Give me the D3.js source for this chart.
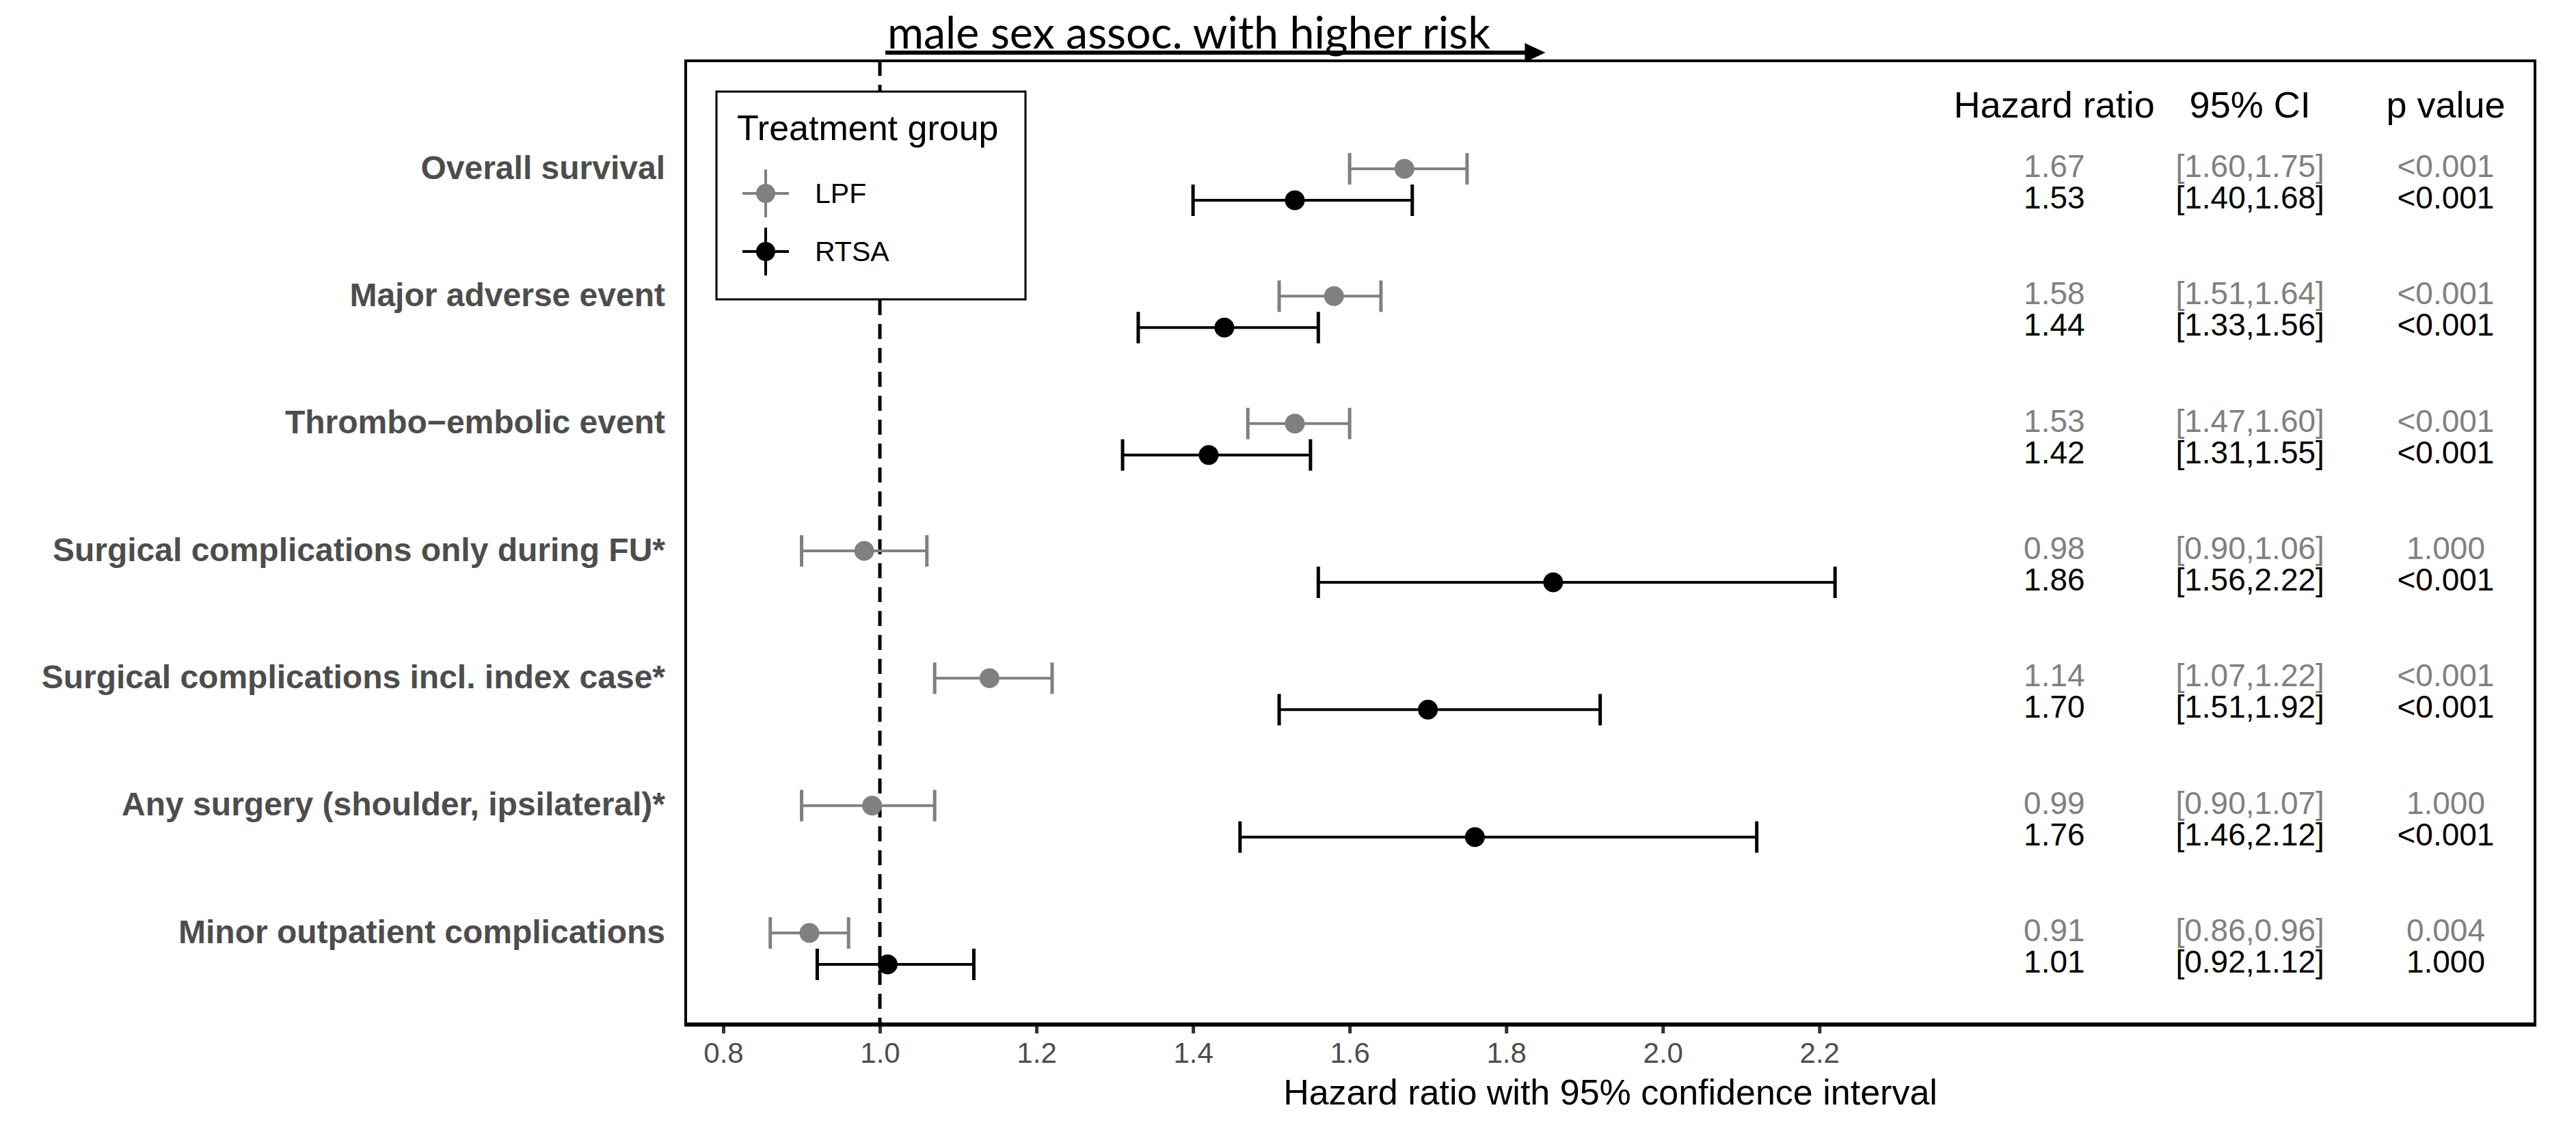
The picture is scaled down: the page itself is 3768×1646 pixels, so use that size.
<!DOCTYPE html>
<html>
<head>
<meta charset="utf-8">
<script src="https://cdn.jsdelivr.net/npm/d3@7"></script>
<style>
  body { margin: 0; background: #fff; }
  svg { display: block; }
</style>
</head>
<body>
<div class="chart"></div>
<script>
// outcomes, top to bottom
const categories = [
    "Overall survival",
    "Major adverse event",
    "Thrombo\u2212embolic event",
    "Surgical complications only during FU*",
    "Surgical complications incl. index case*",
    "Any surgery (shoulder, ipsilateral)*",
    "Minor outpatient complications"
];

// LPF
const lpfHR   = [1.67, 1.58, 1.53, 0.98, 1.14, 0.99, 0.91];
const lpfLow  = [1.60, 1.51, 1.47, 0.90, 1.07, 0.90, 0.86];
const lpfHigh = [1.75, 1.64, 1.60, 1.06, 1.22, 1.07, 0.96];
const lpfP    = ["<0.001", "<0.001", "<0.001", "1.000", "<0.001", "1.000", "0.004"];

// RTSA
const rtsaHR   = [1.53, 1.44, 1.42, 1.86, 1.70, 1.76, 1.01];
const rtsaLow  = [1.40, 1.33, 1.31, 1.56, 1.51, 1.46, 0.92];
const rtsaHigh = [1.68, 1.56, 1.55, 2.22, 1.92, 2.12, 1.12];
const rtsaP    = ["<0.001", "<0.001", "<0.001", "<0.001", "<0.001", "<0.001", "1.000"];

const groups = ["LPF", "RTSA"];
const xTicks = [0.8, 1.0, 1.2, 1.4, 1.6, 1.8, 2.0, 2.2];
const tableHeaders = ["Hazard ratio", "95% CI", "p value"];
const tableCols = [2.5, 2.75, 3.0];   // x positions of the table columns (data units)

const width = 3768,
    height = 1646;

const panel = { left: 1003, right: 3708, top: 89, bottom: 1499 };

const FONT = "'Liberation Sans', Arial, sans-serif";
const GREY = "#808080";

const color = d3.scaleOrdinal().domain(groups).range([GREY, "#000000"]);

const x = d3.scaleLinear()
    .domain([0.752, 3.114])
    .range([panel.left, panel.right]);

const y = d3.scalePoint()
    .domain(categories)
    .range([247, 1365]);

const dodge = { LPF: 0, RTSA: 46 };

const rows = [];
categories.forEach(function (c, i) {
    rows.push({ cat: c, group: "LPF", hr: lpfHR[i], lo: lpfLow[i], hi: lpfHigh[i], p: lpfP[i] });
    rows.push({ cat: c, group: "RTSA", hr: rtsaHR[i], lo: rtsaLow[i], hi: rtsaHigh[i], p: rtsaP[i] });
});
function rowY(d) { return y(d.cat) + dodge[d.group]; }

const svg = d3.select(".chart").append("svg")
    .attr("width", width)
    .attr("height", height)
    .style("font-family", FONT);

svg.append("rect").attr("width", width).attr("height", height).attr("fill", "#fff");

// reference line at HR = 1
svg.append("line")
    .attr("x1", x(1)).attr("x2", x(1))
    .attr("y1", panel.top).attr("y2", panel.bottom)
    .attr("stroke", "#000")
    .attr("stroke-width", 5)
    .attr("stroke-dasharray", "22,13");

// legend box
const leg = svg.append("g");
leg.append("rect")
    .attr("x", 1048).attr("y", 134)
    .attr("width", 452).attr("height", 304)
    .attr("fill", "#fff")
    .attr("stroke", "#000")
    .attr("stroke-width", 3);
leg.append("text")
    .attr("x", 1078).attr("y", 205)
    .attr("font-size", 52)
    .text("Treatment group");
const key = leg.selectAll(".key")
    .data(groups)
    .enter().append("g")
    .attr("class", "key")
    .attr("transform", function (d, i) { return "translate(1120," + (283 + i * 85) + ")"; });
key.append("line")
    .attr("x1", -34).attr("x2", 34)
    .attr("stroke", function (d) { return color(d); })
    .attr("stroke-width", 4);
key.append("line")
    .attr("y1", -35).attr("y2", 35)
    .attr("stroke", function (d) { return color(d); })
    .attr("stroke-width", 4);
key.append("circle")
    .attr("r", 14)
    .attr("fill", function (d) { return color(d); });
key.append("text")
    .attr("x", 72)
    .attr("dy", "0.35em")
    .attr("font-size", 41)
    .text(function (d) { return d; });

// confidence intervals
const ci = svg.selectAll(".ci")
    .data(rows)
    .enter().append("g")
    .attr("class", "ci");
ci.append("line")
    .attr("x1", function (d) { return x(d.lo); })
    .attr("x2", function (d) { return x(d.hi); })
    .attr("y1", rowY).attr("y2", rowY)
    .attr("stroke", function (d) { return color(d.group); })
    .attr("stroke-width", 4);
["lo", "hi"].forEach(function (k) {
    ci.append("line")
        .attr("x1", function (d) { return x(d[k]); })
        .attr("x2", function (d) { return x(d[k]); })
        .attr("y1", function (d) { return rowY(d) - 23; })
        .attr("y2", function (d) { return rowY(d) + 23; })
        .attr("stroke", function (d) { return color(d.group); })
        .attr("stroke-width", 5);
});
ci.append("circle")
    .attr("cx", function (d) { return x(d.hr); })
    .attr("cy", rowY)
    .attr("r", 14.5)
    .attr("fill", function (d) { return color(d.group); });

// table
svg.selectAll(".head")
    .data(tableHeaders)
    .enter().append("text")
    .attr("class", "head")
    .attr("x", function (d, i) { return x(tableCols[i]); })
    .attr("y", 172)
    .attr("text-anchor", "middle")
    .attr("font-size", 54)
    .text(function (d) { return d; });

const cellText = [
    function (d) { return d.hr.toFixed(2); },
    function (d) { return "[" + d.lo.toFixed(2) + "," + d.hi.toFixed(2) + "]"; },
    function (d) { return d.p; }
];
cellText.forEach(function (fn, i) {
    svg.selectAll(".cell" + i)
        .data(rows)
        .enter().append("text")
        .attr("class", "cell" + i)
        .attr("x", x(tableCols[i]))
        .attr("y", function (d) { return rowY(d) - 4; })
        .attr("dy", "0.35em")
        .attr("text-anchor", "middle")
        .attr("font-size", 46)
        .attr("fill", function (d) { return color(d.group); })
        .text(fn);
});

// y labels
svg.selectAll(".ylab")
    .data(categories)
    .enter().append("text")
    .attr("class", "ylab")
    .attr("x", panel.left - 30)
    .attr("y", function (d) { return y(d) - 2; })
    .attr("dy", "0.35em")
    .attr("text-anchor", "end")
    .attr("font-size", 48)
    .attr("font-weight", "bold")
    .attr("fill", "#4D4D4D")
    .text(function (d) { return d; });

// x axis
const xAxis = svg.append("g")
    .attr("transform", "translate(0," + panel.bottom + ")")
    .call(d3.axisBottom(x)
        .tickValues(xTicks)
        .tickFormat(d3.format(".1f"))
        .tickSize(13)
        .tickPadding(13));
xAxis.select(".domain").remove();
xAxis.selectAll(".tick line").attr("stroke", "#333").attr("stroke-width", 5);
xAxis.selectAll(".tick text")
    .attr("font-size", 42)
    .attr("font-family", FONT)
    .attr("fill", "#4D4D4D");

svg.append("text")
    .attr("x", (panel.left + panel.right) / 2)
    .attr("y", 1616)
    .attr("text-anchor", "middle")
    .attr("font-size", 52)
    .text("Hazard ratio with 95% confidence interval");

// panel border
svg.append("rect")
    .attr("x", panel.left).attr("y", panel.top)
    .attr("width", panel.right - panel.left)
    .attr("height", panel.bottom - panel.top)
    .attr("fill", "none")
    .attr("stroke", "#000")
    .attr("stroke-width", 4);
svg.append("line")
    .attr("x1", panel.left - 2).attr("x2", panel.right + 2)
    .attr("y1", panel.bottom).attr("y2", panel.bottom)
    .attr("stroke", "#000")
    .attr("stroke-width", 6);

// direction annotation above the panel
const arrowEnd = 1.85;
svg.append("text")
    .attr("x", x(1) + 11)
    .attr("y", 71)
    .attr("font-family", "Lato, 'Open Sans', sans-serif")
    .attr("font-size", 66)
    .attr("textLength", 882)
    .attr("lengthAdjust", "spacingAndGlyphs")
    .text("male sex assoc. with higher risk");
svg.append("line")
    .attr("x1", x(1) + 8).attr("x2", x(arrowEnd) - 25)
    .attr("y1", 77).attr("y2", 77)
    .attr("stroke", "#000")
    .attr("stroke-width", 6);
svg.append("path")
    .attr("d", "M" + (x(arrowEnd) - 30) + ",63 L" + x(arrowEnd) + ",77 L" + (x(arrowEnd) - 30) + ",91 Z")
    .attr("fill", "#000");
</script>
</body>
</html>
